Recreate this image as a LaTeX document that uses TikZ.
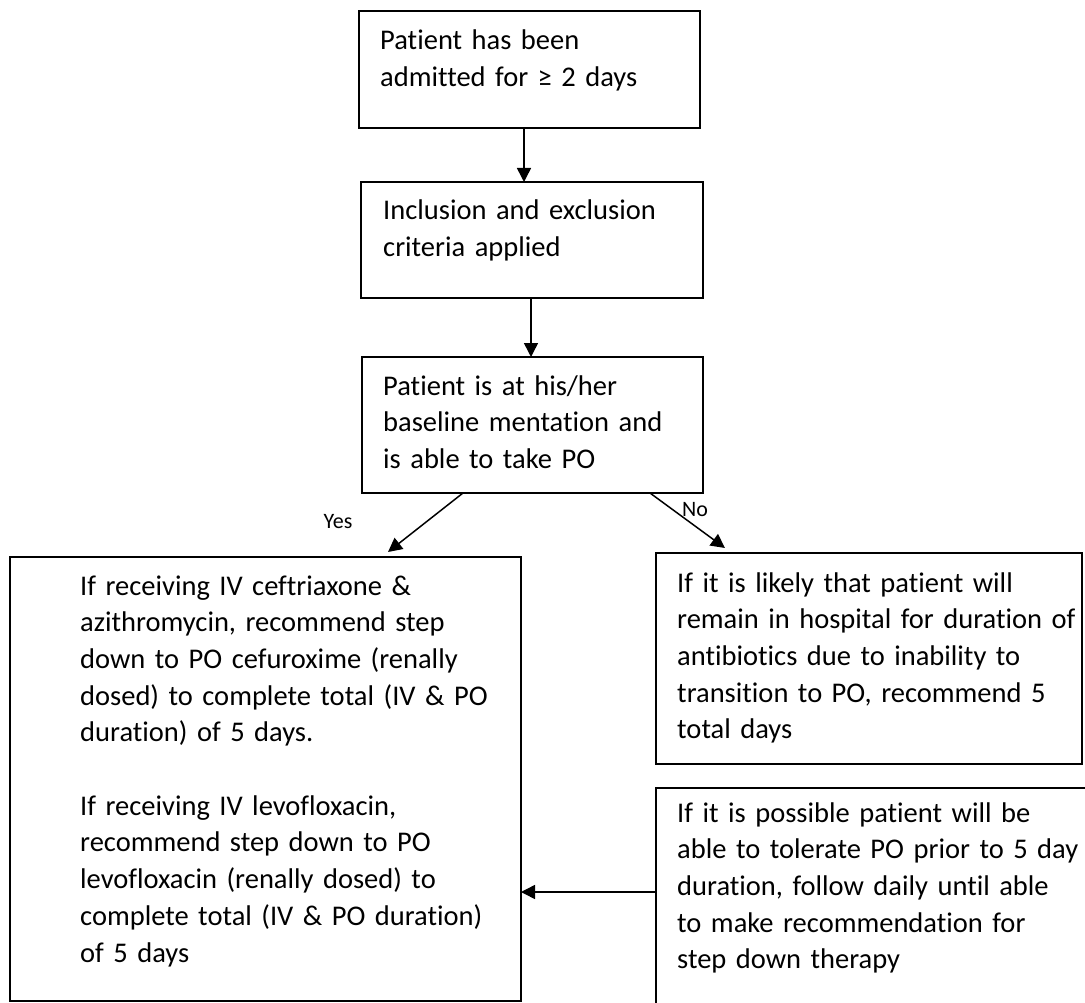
\documentclass[tikz,border=0pt]{standalone}
\usepackage{fontspec}
\setmainfont{Carlito}[Ligatures=NoCommon]
\usetikzlibrary{arrows.meta,calc}
\begin{document}
\begin{tikzpicture}[x=1pt,y=-1pt,
  boxline/.style={draw, line width=1.8pt, inner sep=0pt, outer sep=0pt, anchor=north west},
  txt/.style={anchor=base west, align=left, inner sep=0pt, text width=#1, font=\fontsize{28.5}{36.7}\selectfont},
  arr/.style={line width=1.5pt, -{Triangle[length=14pt,width=14pt]}},
  lab/.style={font=\fontsize{22}{24}\selectfont, inner sep=0pt}]
\path[use as bounding box] (0,0) rectangle (1085,1003);
\clip (0,0) rectangle (1085,1003);
\fill[white] (0,0) rectangle (1085,1003);

% boxes
\node[boxline, minimum width=341pt, minimum height=117pt] (b1) at (359,11) {};
\node[boxline, minimum width=342pt, minimum height=116pt] (b2) at (361,182) {};
\node[boxline, minimum width=341pt, minimum height=136pt] (b3) at (362,357) {};
\node[boxline, minimum width=511pt, minimum height=444pt] (L) at (10,557) {};
\node[boxline, minimum width=426pt, minimum height=211pt] (R) at (656,553) {};
\node[boxline, minimum width=500pt, minimum height=320pt] (BR) at (656,788) {};

% texts
\node[txt=330pt] (t1) at (380,50) {Patient has been\\admitted for ≥ 2 days};
\node[txt=330pt] (t2) at (383,220) {Inclusion and exclusion\\criteria applied};
\node[txt=330pt] (t3) at (383,395) {Patient is at his/her\\baseline mentation and\\is able to take PO};
\node[txt=440pt] (tL) at (80,595) {If receiving IV ceftriaxone \&\\azithromycin, recommend step\\down to PO cefuroxime (renally\\dosed) to complete total (IV \& PO\\duration) of 5 days.\\[36.7pt]If receiving IV levofloxacin,\\recommend step down to PO\\levofloxacin (renally dosed) to\\complete total (IV \& PO duration)\\of 5 days};
\node[txt=420pt] (tR) at (677,592) {If it is likely that patient will\\remain in hospital for duration of\\antibiotics due to inability to\\transition to PO, recommend 5\\total days};
\node[txt=420pt] (tBR) at (677,822) {If it is possible patient will be\\able to tolerate PO prior to 5 day\\duration, follow daily until able\\to make recommendation for\\step down therapy};

% connectors
\draw[arr] (b1.south -| 524,0) -- (b2.north -| 524,0);
\draw[arr] (b2.south -| 531,0) -- (b3.north -| 531,0);
\coordinate (yesend) at ($(L.north -| 388,0)+(0,-5)$);
\coordinate (noend) at ($(R.north -| 725,0)+(0,-5)$);
\draw[arr] (b3.south -| 463,0) -- (yesend);
\draw[arr] (b3.south -| 650,0) -- (noend);
\draw[arr] (BR.west |- 0,892) -- (L.east |- 0,892);

% labels
\node[lab] (yes) at (338,522) {Yes};
\node[lab] (no) at (695,510) {No};
\end{tikzpicture}
\end{document}
